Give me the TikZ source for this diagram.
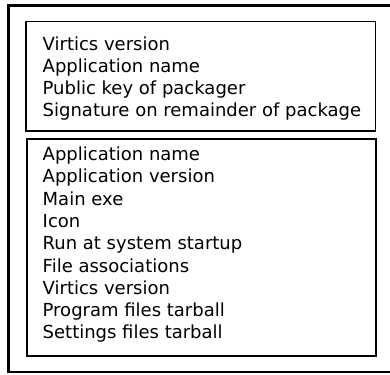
\documentclass[tikz,border=0pt]{standalone}
\usepackage{fontspec}
\setmainfont{DejaVu Sans}
\begin{document}
\begin{tikzpicture}[x=1bp,y=-1bp,
  frame/.style={draw=black,line width=2.6bp},
  headbox/.style={draw=black,line width=1.2bp},
  bodybox/.style={draw=black,line width=2bp},
  entry/.style={anchor=base west,inner sep=0pt,font=\fontsize{18bp}{22bp}\selectfont}]
\useasboundingbox (0,0) rectangle (390,375);
% outer container, right side runs off the page
\draw[frame] (8.5,5.5) rectangle (393,372);
% header block
\node[headbox,minimum width=349.5bp,minimum height=109.5bp,inner sep=0pt] (header) at (200.75,76.25) {};
% manifest block
\node[bodybox,minimum width=348.5bp,minimum height=216.5bp,inner sep=0pt] (manifest) at (201.25,247.25) {};
% header fields
\foreach \t [count=\i] in {Virtics version,Application name,Public key of packager,Signature on remainder of package}
  \node[entry] (h\i) at (42.5,{50+22.1*(\i-1)}) {\t};
% manifest fields
\foreach \t [count=\i] in {Application name,Application version,Main exe,Icon,Run at system startup,File associations,Virtics version,Program files tarball,Settings files tarball}
  \node[entry] (m\i) at (42.5,{160.5+22.3*(\i-1)}) {\t};
\end{tikzpicture}
\end{document}
